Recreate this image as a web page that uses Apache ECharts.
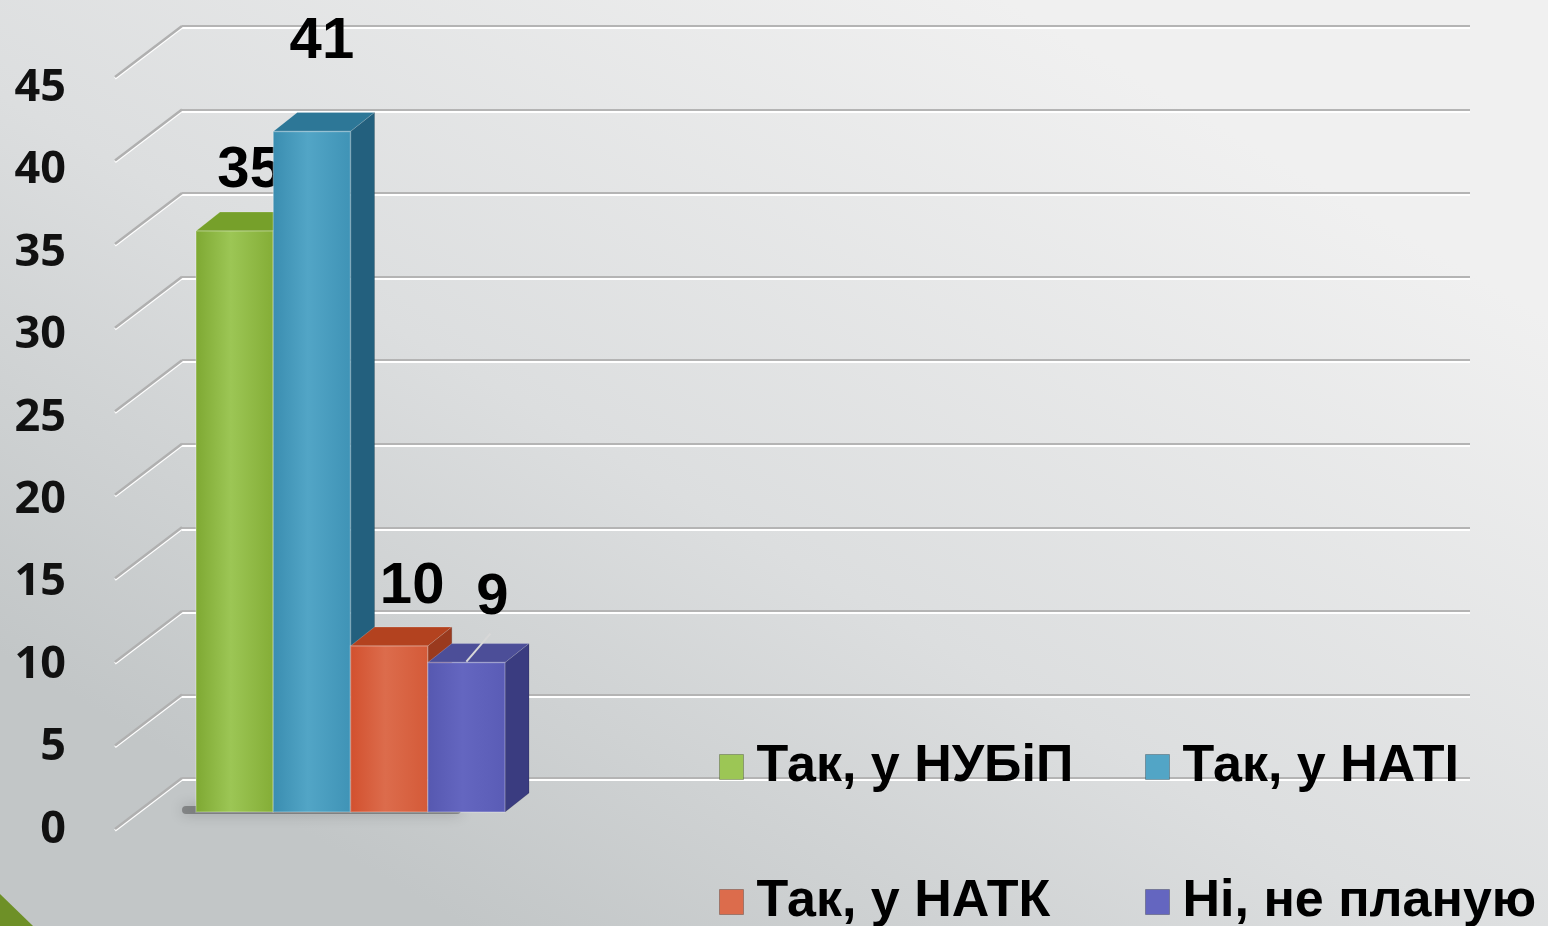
<!DOCTYPE html>
<html>
<head>
<meta charset="utf-8">
<style>
  html, body { margin: 0; padding: 0; }
  #chart { width: 1548px; height: 926px; }
</style>
<script src="https://cdn.jsdelivr.net/npm/echarts@6/dist/echarts.min.js"></script>
</head>
<body>
<div id="chart"></div>
<script>
// chart data
const seriesNames = ["Так, у НУБіП", "Так, у НАТІ", "Так, у НАТК", "Ні, не планую"];
const seriesValues = [35, 41, 10, 9];
const yTicks = [0, 5, 10, 15, 20, 25, 30, 35, 40, 45];

// look
const faceColors = [
  { front: ["#7ea832", "#9cc655", "#84ad36"], top: "#76a02a", side: "#5d7f1f" },
  { front: ["#3a8db0", "#52a5c6", "#3f93b6"], top: "#2d7797", side: "#23607e" },
  { front: ["#d2502e", "#dc6c4c", "#d45a38"], top: "#b3421f", side: "#9a3a1e" },
  { front: ["#5658b0", "#6466c0", "#5a5cb6"], top: "#4c4e98", side: "#3a3c80" }
];
const depth = { dx: 24, dy: 19 };
// label placement relative to the top-back edge of each bar
const labelShift = [
  { x: 3, y: -41, leader: false },
  { x: -2, y: -70, leader: false },
  { x: 11, y: -40, leader: false },
  { x: 14, y: -46, leader: true }
];

const myChart = echarts.init(document.getElementById("chart"));

function barRender(idx) {
  return function (params, api) {
    const base = api.coord([api.value(0), 0]);
    const top = api.coord([api.value(0), api.value(1)]);
    const bw = api.size([1, 0])[0];
    const x0 = base[0] - bw / 2;
    const x1 = x0 + bw;
    const yb = base[1];
    const yt = top[1];
    const dx = depth.dx, dy = depth.dy;
    const c = faceColors[idx];
    const ls = labelShift[idx];
    const lx = x0 + bw / 2 + dx / 2 + ls.x;
    const ly = yt - dy + ls.y;
    const children = [
      {
        type: "polygon",
        shape: { points: [[x1, yt], [x1 + dx, yt - dy], [x1 + dx, yb - dy], [x1, yb]] },
        style: { fill: c.side, stroke: "rgba(0,0,0,0.15)", lineWidth: 1 }
      },
      {
        type: "polygon",
        shape: { points: [[x0, yt], [x0 + dx, yt - dy], [x1 + dx, yt - dy], [x1, yt]] },
        style: { fill: c.top, stroke: "rgba(255,255,255,0.2)", lineWidth: 1 }
      },
      {
        type: "rect",
        shape: { x: x0, y: yt, width: bw, height: yb - yt },
        style: {
          fill: new echarts.graphic.LinearGradient(0, 0, 1, 0, [
            { offset: 0, color: c.front[0] },
            { offset: 0.45, color: c.front[1] },
            { offset: 1, color: c.front[2] }
          ]),
          stroke: "rgba(255,255,255,0.25)",
          lineWidth: 1.5
        }
      },
      {
        type: "text",
        style: {
          text: String(api.value(1)),
          x: lx,
          y: ly,
          align: "center",
          verticalAlign: "middle",
          fontSize: 58,
          fontWeight: "bold",
          fontFamily: "Liberation Sans",
          fill: "#000"
        }
      }
    ];
    if (ls.leader) {
      children.push({
        type: "line",
        shape: { x1: lx - 2, y1: ly + 36, x2: lx - 26, y2: yt - dy + 18 },
        style: { stroke: "#d8d8d8", lineWidth: 2 }
      });
    }
    return { type: "group", children: children };
  };
}

const barSeries = seriesNames.map((name, i) => ({
  name: name,
  type: "custom",
  xAxisIndex: 2,
  yAxisIndex: 2,
  itemStyle: { color: faceColors[i].front[1] },
  renderItem: barRender(i),
  clip: false,
  data: [[i, seriesValues[i]]],
  z: 5
}));

const legendLeft = [714, 1140, 714, 1140];
const legendTop = [732, 732, 867, 867];

const option = {
  backgroundColor: {
    type: "linear", x: 0.65, y: 0, x2: 0.3, y2: 1,
    colorStops: [
      { offset: 0, color: "#f0f0f0" },
      { offset: 0.55, color: "#dcdedf" },
      { offset: 1, color: "#c2c6c7" }
    ]
  },
  animation: false,
  grid: [
    // back wall
    { left: 182, right: 78, top: 26, bottom: 148 },
    // front (axis labels)
    { left: 76, width: 10, top: 88, bottom: 96 },
    // bars
    { left: 196, right: 1043, top: 65, bottom: 114 }
  ],
  xAxis: [
    { gridIndex: 0, type: "category", data: [""], show: false },
    { gridIndex: 1, type: "category", data: [""], show: false },
    { gridIndex: 2, type: "category", data: seriesNames, show: false }
  ],
  yAxis: [
    {
      gridIndex: 0, type: "value", min: 0, max: 45, interval: 5,
      axisLabel: { show: false }, axisLine: { show: false }, axisTick: { show: false },
      splitLine: {
        lineStyle: { color: "#b4b4b4", width: 2, shadowColor: "#ffffff", shadowOffsetY: 2 }
      }
    },
    {
      gridIndex: 1, type: "value", min: 0, max: 45, interval: 5,
      axisLine: { show: false }, axisTick: { show: false }, splitLine: { show: false },
      axisLabel: {
        margin: 10,
        fontSize: 45,
        fontWeight: "bold",
        fontFamily: "Open Sans",
        color: "#111"
      }
    },
    { gridIndex: 2, type: "value", min: 0, max: 45, show: false, splitLine: { show: false } }
  ],
  legend: seriesNames.map((n, i) => ({
    data: [n],
    left: legendLeft[i],
    top: legendTop[i],
    icon: "rect",
    itemWidth: 24,
    itemHeight: 25,
    selectedMode: false,
    itemStyle: { borderColor: "rgba(0,0,0,0.25)", borderWidth: 1 },
    textStyle: {
      fontSize: 52,
      lineHeight: 60,
      fontWeight: "bold",
      fontFamily: "Liberation Sans",
      color: "#000",
      padding: [0, 0, 0, 8]
    }
  })),
  graphic: [
    {
      type: "polygon",
      shape: { points: [[0, 894], [33, 926], [0, 926]] },
      style: { fill: "#6e9027" }
    }
  ],
  series: [
    {
      // slanted floor lines of the 3D wall
      type: "custom",
      xAxisIndex: 0,
      yAxisIndex: 0,
      silent: true,
      clip: false,
      renderItem: function (params, api) {
        const p = api.coord([0, api.value(0)]);
        const x = params.coordSys.x;
        return {
          type: "line",
          shape: { x1: x, y1: p[1], x2: x - 67, y2: p[1] + 51 },
          style: { stroke: "#b0b0b0", lineWidth: 2.5, shadowColor: "#fff", shadowOffsetY: 1.5 }
        };
      },
      data: yTicks.map(v => [v]),
      z: 1
    },
    {
      // soft bar shadow on the floor
      type: "custom",
      xAxisIndex: 2,
      yAxisIndex: 2,
      silent: true,
      clip: false,
      renderItem: function (params, api) {
        const a = api.coord([0, 0]);
        const b = api.coord([seriesNames.length - 1, 0]);
        const bw = api.size([1, 0])[0];
        return {
          type: "rect",
          shape: { x: a[0] - bw / 2 - 14, y: a[1] - 6, width: b[0] - a[0] + bw - 30, height: 8, r: 4 },
          style: { fill: "rgba(30,30,30,0.35)", shadowBlur: 14, shadowColor: "rgba(0,0,0,0.6)" }
        };
      },
      data: [[0]],
      z: 2
    }
  ].concat(barSeries)
};

myChart.setOption(option);
</script>
</body>
</html>
